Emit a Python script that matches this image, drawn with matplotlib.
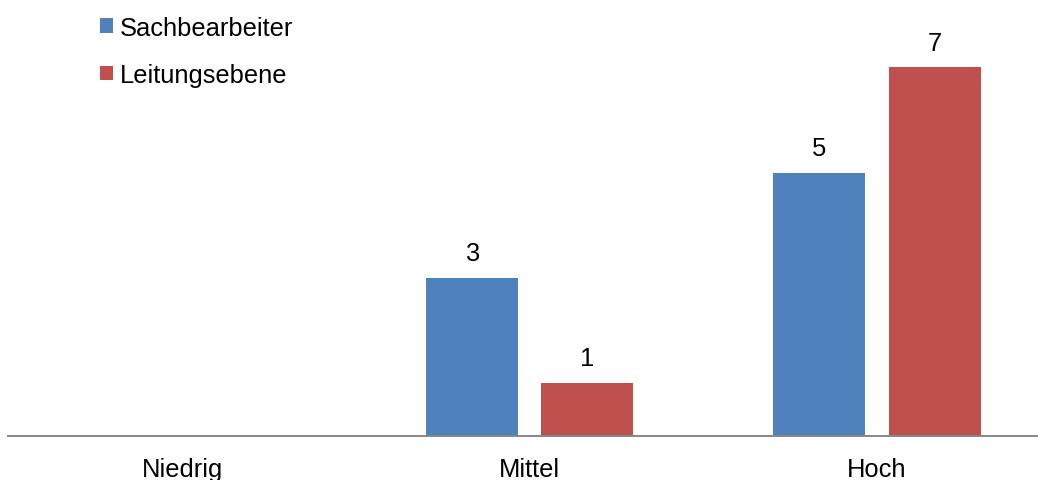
import matplotlib
matplotlib.use("Agg")
import matplotlib.pyplot as plt
import numpy as np

categories = ["Niedrig", "Mittel", "Hoch"]
series_names = ["Sachbearbeiter", "Leitungsebene"]
sachbearbeiter = [0, 3, 5]
leitungsebene = [0, 1, 7]
colors = ["#4F81BD", "#C0504D"]

plt.rcParams['font.family'] = ['Liberation Sans', 'DejaVu Sans']
FS = 18.4

W, H = 1038, 481
fig = plt.figure(figsize=(W / 100, H / 100), dpi=100)
ax = fig.add_axes([8.3 / W, 44.3 / H, 1042.5 / W, (H - 44.3) / H])

x = np.arange(len(categories))
bw = 0.265
off = 0.166
b1 = ax.bar(x - off, sachbearbeiter, bw, color=colors[0], label=series_names[0])
b2 = ax.bar(x + off, leitungsebene, bw, color=colors[1], label=series_names[1])

for bars, vals in ((b1, sachbearbeiter), (b2, leitungsebene)):
    for rect, v in zip(bars, vals):
        if v == 0:
            continue
        ax.annotate(str(v), (rect.get_x() + rect.get_width() / 2, v),
                    xytext=(0, 12.7), textcoords="offset points",
                    ha="center", va="baseline", fontsize=FS, color="black")

ax.set_xlim(-0.5, 2.5)
ax.set_ylim(0, 8.3)
ax.set_xticks(x)
ax.set_xticklabels(categories, fontsize=FS)
ax.tick_params(axis="x", length=0, pad=15)
ax.set_yticks([])
for s in ("top", "right", "left"):
    ax.spines[s].set_visible(False)
ax.spines["bottom"].set_color("#868686")
ax.spines["bottom"].set_linewidth(1.4)
ax.patch.set_alpha(0)

leg = fig.legend(handles=[b1, b2], labels=series_names, loc="upper left",
                 bbox_to_anchor=(100 / W, 1 - 16.5 / H), frameon=False,
                 fontsize=FS, handlelength=0.5, handleheight=0.5,
                 handletextpad=0.27, labelspacing=0.92, borderpad=0,
                 borderaxespad=0)

fig.savefig("out.png", dpi=100)
